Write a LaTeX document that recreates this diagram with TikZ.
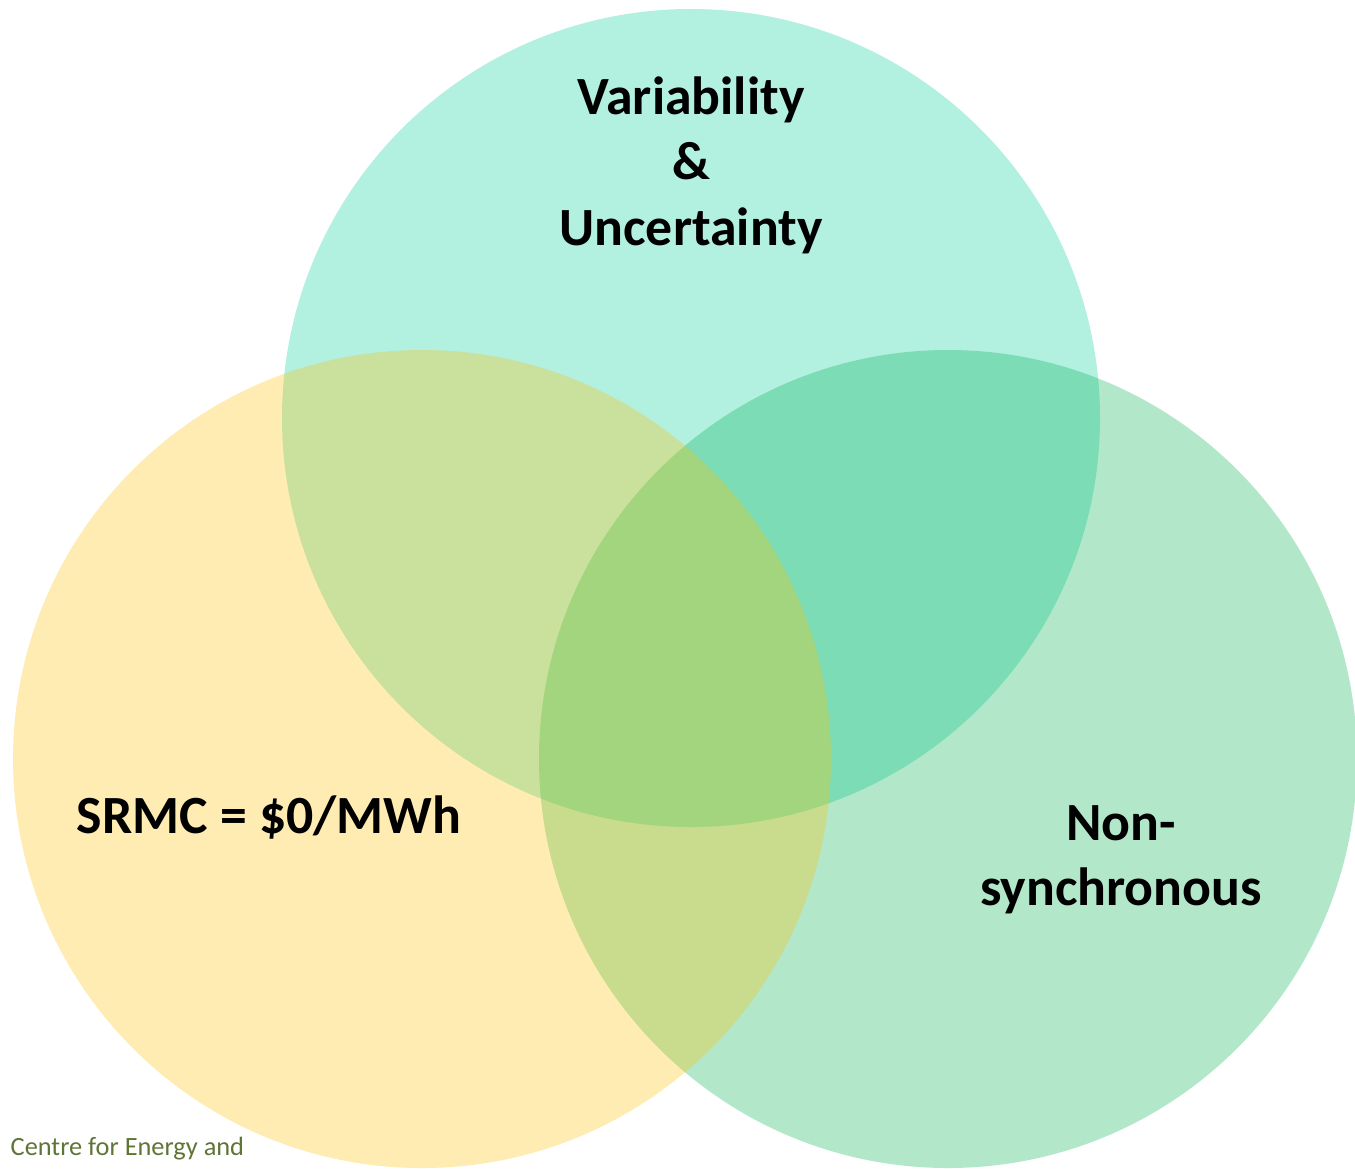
\documentclass[tikz,border=0pt]{standalone}
\usepackage{fontspec}
\setmainfont{Carlito}
\definecolor{vteal}{HTML}{00CC99}
\definecolor{vgreen}{HTML}{00B050}
\definecolor{vyellow}{HTML}{FFC000}
\definecolor{footgreen}{HTML}{5F7536}
\begin{document}
\begin{tikzpicture}[scale=1.0,
    venn/.style={fill opacity=0.3},
    lbl/.style={font=\fontsize{15.3}{18.6}\selectfont\bfseries, align=center, text=black}]
    % Canvas
    \useasboundingbox (0,0) rectangle (13.55,11.68);
    \clip (0,0) rectangle (13.55,11.68);

    % Variability circle (top)
    \fill[venn, vteal] (6.91,7.50) circle (4.09);
    % Non-synchronous circle (right)
    \fill[venn, vgreen] (9.48,4.09) circle (4.09);
    % SRMC circle (left)
    \fill[venn, vyellow] (4.22,4.09) circle (4.09);

    % Labels
    \node[lbl] (vartxt) at (6.91,10.03) {Variability\\\&\\Uncertainty};
    \node[lbl] (srmctxt) at (2.69,3.51) {SRMC = \$0/MWh};
    \node[lbl] (nonsync) at (11.21,3.08) {Non-\\synchronous};

    % Footer
    \node[font=\fontsize{7.5}{9}\selectfont, text=footgreen, anchor=base west, inner sep=0pt] (footer) at (0.10,0.13) {Centre for Energy and};
\end{tikzpicture}
\end{document}
